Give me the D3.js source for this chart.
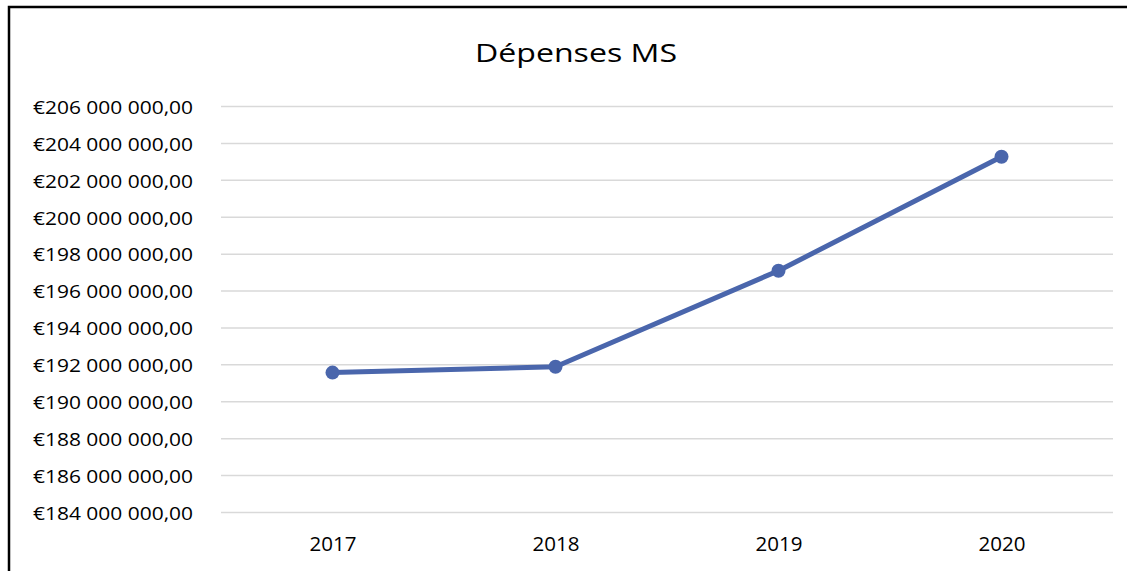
<!DOCTYPE html>
<html>
<head>
<meta charset="utf-8">
<script src="https://cdn.jsdelivr.net/npm/d3@7"></script>
<style>
  body { margin: 0; background: #fff; }
</style>
</head>
<body>
<div id="chart"></div>
<script>
// data
var years = ["2017", "2018", "2019", "2020"];
var spending = [191580000, 191900000, 197100000, 203280000];
var yTicks = [184e6, 186e6, 188e6, 190e6, 192e6, 194e6, 196e6, 198e6, 200e6, 202e6, 204e6, 206e6];

var width = 1127, height = 571;
var font = "'Open Sans', Lato, sans-serif";

var svg = d3.select("#chart")
    .append("svg")
    .attr("width", width)
    .attr("height", height)
    .style("display", "block");

// frame (left + top only visible)
svg.append("path")
    .attr("d", "M9,571 V7 H1127")
    .attr("fill", "none")
    .attr("stroke", "#000")
    .attr("stroke-width", 2.5);

// title
svg.append("text")
    .attr("x", 576)
    .attr("y", 62)
    .attr("text-anchor", "middle")
    .attr("textLength", 202)
    .attr("lengthAdjust", "spacingAndGlyphs")
    .style("font-family", font)
    .style("font-size", "26px")
    .style("fill", "#000")
    .text("Dépenses MS");

// scales
var x = d3.scalePoint()
    .domain(years)
    .range([221, 1113])
    .padding(0.5);

var y = d3.scaleLinear()
    .domain([184e6, 206e6])
    .range([512.5, 106.5]);

// euro format, french style
var fmt = function (d) {
    var s = d3.format(",.2f")(d);
    return "€" + s.replace(/,/g, " ").replace(".", ",");
};

// gridlines
svg.append("g")
    .selectAll("line")
    .data(yTicks)
    .enter()
    .append("line")
    .attr("x1", 221)
    .attr("x2", 1113)
    .attr("y1", d => y(d))
    .attr("y2", d => y(d))
    .attr("stroke", "#d9d9d9")
    .attr("stroke-width", 1.5);

// y axis labels
var yAxis = svg.append("g")
    .attr("transform", "translate(193,0)")
    .call(d3.axisLeft(y).tickValues(yTicks).tickFormat(fmt).tickSize(0).tickPadding(0));
yAxis.select(".domain").remove();
yAxis.selectAll("text")
    .attr("dy", "0.36em")
    .attr("textLength", 160)
    .attr("lengthAdjust", "spacingAndGlyphs")
    .style("font-family", font)
    .style("font-size", "19px")
    .style("fill", "#000");

// x axis labels
var xAxis = svg.append("g")
    .attr("transform", "translate(0,537)")
    .call(d3.axisBottom(x).tickSize(0).tickPadding(0));
xAxis.select(".domain").remove();
xAxis.selectAll("text")
    .attr("textLength", 47)
    .attr("lengthAdjust", "spacingAndGlyphs")
    .style("font-family", font)
    .style("font-size", "20px")
    .style("fill", "#000");

// line
var data = years.map((yr, i) => ({ year: yr, value: spending[i] }));

svg.append("path")
    .datum(data)
    .attr("fill", "none")
    .attr("stroke", "#4a66ac")
    .attr("stroke-width", 5)
    .attr("stroke-linejoin", "round")
    .attr("d", d3.line().x(d => x(d.year)).y(d => y(d.value)));

svg.append("g")
    .selectAll("circle")
    .data(data)
    .enter()
    .append("circle")
    .attr("cx", d => x(d.year))
    .attr("cy", d => y(d.value))
    .attr("r", 7)
    .attr("fill", "#4a66ac");
</script>
</body>
</html>
